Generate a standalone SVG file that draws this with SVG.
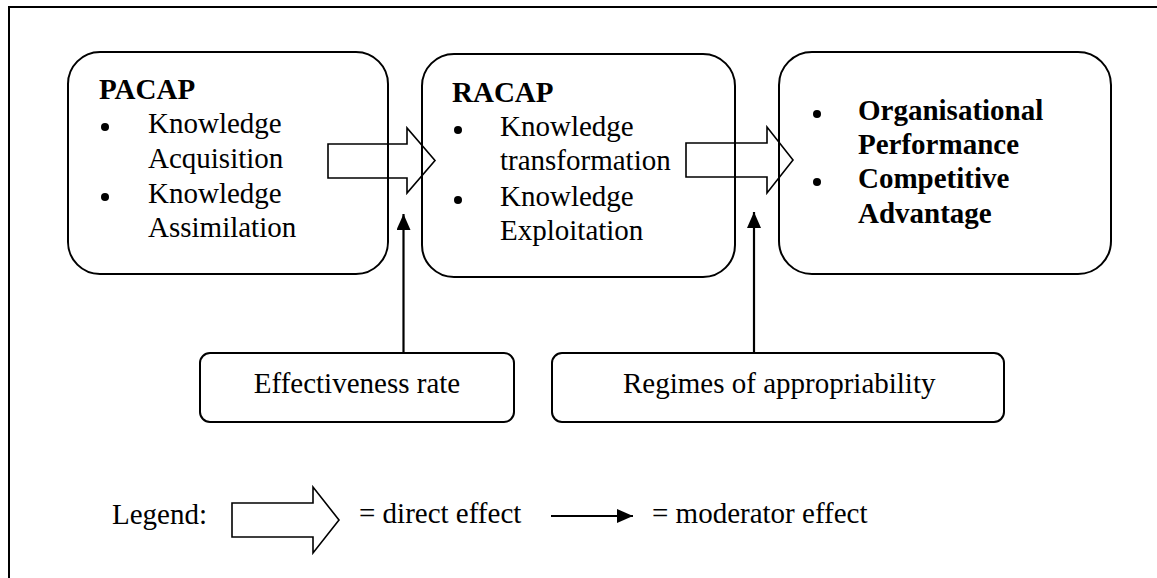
<svg xmlns="http://www.w3.org/2000/svg" width="1157" height="578" viewBox="0 0 1157 578">
<style>
  text { font-family: "Liberation Serif", "Times New Roman", serif; font-size: 29px; fill: #000; }
  .b { font-weight: bold; }
  .box { fill: none; stroke: #000; stroke-width: 2; }
  .blk { fill: none; stroke: #000; stroke-width: 1.6; stroke-linejoin: miter; }
  .mod { stroke: #000; stroke-width: 2.2; fill: none; }
  .dot { fill: #000; }
</style>
<defs>
  <marker id="ah" viewBox="0 0 16 14" refX="16" refY="7" markerWidth="16" markerHeight="14" markerUnits="userSpaceOnUse" orient="auto">
    <path d="M0,0 L16,7 L0,14 Z" fill="#000"/>
  </marker>
</defs>
<rect width="1157" height="578" fill="#fff"/>
<path d="M9,578 V7 H1157" fill="none" stroke="#000" stroke-width="2"/>

<g id="pacap">
  <rect class="box" x="68" y="52" width="320" height="222" rx="32"/>
  <text class="b" x="99" y="99">PACAP</text>
  <circle class="dot" cx="105" cy="127" r="4"/>
  <text x="148" y="133">Knowledge</text>
  <text x="148" y="168">Acquisition</text>
  <circle class="dot" cx="105" cy="197" r="4"/>
  <text x="148" y="203">Knowledge</text>
  <text x="148" y="237">Assimilation</text>
</g>

<g id="racap">
  <rect class="box" x="422" y="54" width="313" height="223" rx="32"/>
  <text class="b" x="452" y="102">RACAP</text>
  <circle class="dot" cx="458" cy="130" r="4"/>
  <text x="500" y="136">Knowledge</text>
  <text x="500" y="170">transformation</text>
  <circle class="dot" cx="458" cy="200" r="4"/>
  <text x="500" y="206">Knowledge</text>
  <text x="500" y="240">Exploitation</text>
</g>

<g id="outcomes">
  <rect class="box" x="779" y="52" width="332" height="222" rx="33"/>
  <circle class="dot" cx="817" cy="114" r="4"/>
  <text class="b" x="858" y="120">Organisational</text>
  <text class="b" x="858" y="154">Performance</text>
  <circle class="dot" cx="817" cy="182" r="4"/>
  <text class="b" x="858" y="188">Competitive</text>
  <text class="b" x="858" y="223">Advantage</text>
</g>

<g id="effectiveness">
  <rect class="box" x="200" y="353" width="314" height="69" rx="10"/>
  <text x="357" y="393" text-anchor="middle">Effectiveness rate</text>
</g>

<g id="regimes">
  <rect class="box" x="552" y="353" width="452" height="69" rx="10"/>
  <text x="623" y="393">Regimes of appropriability</text>
</g>

<g id="connectors">
  <polygon class="blk" points="328,144 407,144 407,128 435,160.5 407,193 407,178 328,178"/>
  <polygon class="blk" points="686,143 767,143 767,127 793,160 767,193 767,177 686,177"/>
  <line class="mod" x1="403.5" y1="353" x2="403.5" y2="214" marker-end="url(#ah)"/>
  <line class="mod" x1="754" y1="353" x2="754" y2="212" marker-end="url(#ah)"/>
</g>

<g id="legend">
  <text x="112" y="524">Legend:</text>
  <polygon class="blk" points="232,503 313,503 313,487 339,520 313,553 313,537 232,537"/>
  <text x="359" y="523">= direct effect</text>
  <line class="mod" x1="551" y1="516" x2="633" y2="516" marker-end="url(#ah)"/>
  <text x="652" y="523">= moderator effect</text>
</g>
</svg>
